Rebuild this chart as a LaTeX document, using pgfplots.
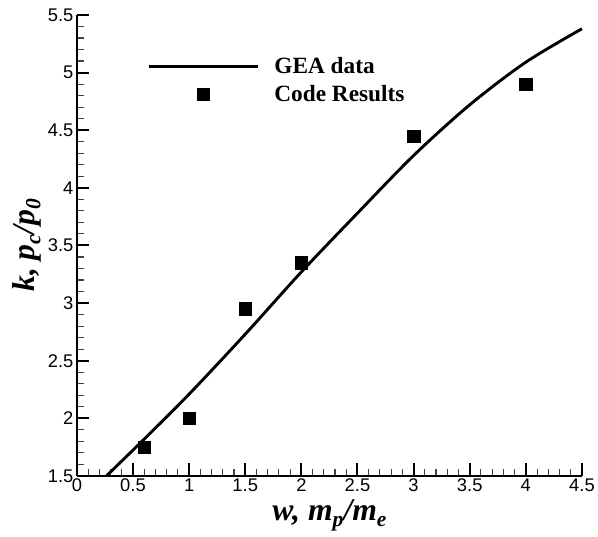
\documentclass[border=0pt]{standalone}
\usepackage{fontspec}
\setmainfont{Liberation Sans}
\newfontfamily\serif{Liberation Serif}
\usepackage{graphicx}
\usepackage{pgfplots}
\pgfplotsset{compat=1.18}
\usetikzlibrary{calc}
\newcommand{\sub}[1]{\raisebox{-0.42ex}{\scalebox{0.68}{#1}}}
\newcommand{\tk}{\fontsize{18.5}{21}\selectfont}
\pgfplotsset{
  lineleg/.style={legend image code/.code={\draw[##1] (0bp,0bp) -- (110bp,0bp);}},
  markleg/.style={legend image code/.code={\draw[##1] plot coordinates {(55bp,0bp)};}},
}

\begin{document}
\begin{tikzpicture}
\begin{axis}[
  scale only axis, width=508bp, height=463.7bp,
  xmin=0, xmax=4.5, ymin=1.5, ymax=5.5,
  axis x line*=bottom, axis y line*=left,
  axis line style={line width=2bp},
  tick align=inside,
  major tick length=12.7bp, minor tick length=7.5bp,
  major tick style={line width=2bp,black},
  minor tick style={line width=1.1bp,black!75},
  xtick={0,0.5,1,1.5,2,2.5,3,3.5,4,4.5},
  ytick={1.5,2,2.5,3,3.5,4,4.5,5,5.5},
  minor x tick num=4, minor y tick num=4,
  /pgf/number format/assume math mode=true,
  xticklabel={\tk\pgfmathprintnumber[assume math mode=true]{\tick}},
  yticklabel={\tk\pgfmathprintnumber[assume math mode=true]{\tick}},
  xticklabel style={yshift=1bp},
  yticklabel style={xshift=0bp},
  xlabel={\serif\bfseries\itshape w, m\sub{p}/m\sub{e}},
  ylabel={\serif\bfseries\itshape k, p\sub{c}/p\sub{0}},
  label style={font=\fontsize{32}{36}\selectfont},
  xlabel style={yshift=-1bp},
  ylabel style={yshift=0bp},
  clip=false,
  legend cell align=left,
  legend style={draw=none, fill=none, at={(0.139,0.912)}, anchor=north west,
    inner sep=0pt, row sep=6bp,
    font=\serif\bfseries\fontsize{23.5}{26}\selectfont,
    nodes={inner xsep=3bp}},
]
\addplot[line width=2.9bp, smooth, lineleg]
  coordinates {
  (0.263,1.5) (0.6,1.82) (1,2.21) (1.5,2.73) (2,3.27) (2.5,3.78)
  (3,4.28) (3.5,4.72) (4,5.09) (4.5,5.38)};
\addlegendentry{\hspace*{12bp}GEA data}
\addplot[only marks, mark=square*, mark size=6.2bp, black, markleg]
  coordinates {
  (0.6,1.75) (1,2.0) (1.5,2.95) (2,3.35) (3,4.45) (4,4.9)};
\addlegendentry{\hspace*{12bp}Code Results}
\end{axis}
\path ($(current axis.south west)+(-77.3bp,-61.3bp)$) rectangle
      ($(current axis.north east)+(13bp,15bp)$);
\end{tikzpicture}
\end{document}
